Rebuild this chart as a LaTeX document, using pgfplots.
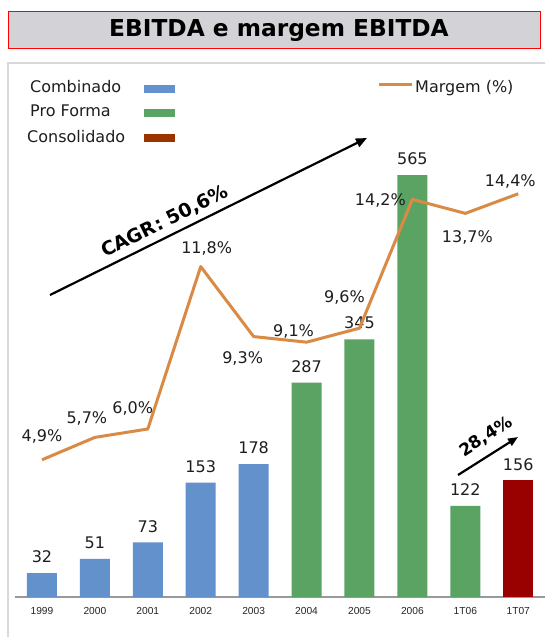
\documentclass[border=0pt]{standalone}
\usepackage{pgfplots}
\pgfplotsset{compat=1.18}
\usepackage{fontspec}
\setmainfont{DejaVu Sans}
\newfontfamily\arialf{Liberation Sans}
\usetikzlibrary{arrows.meta}
\definecolor{cblue}{HTML}{6391CC}
\definecolor{cgreen}{HTML}{5BA363}
\definecolor{cred}{HTML}{990000}
\definecolor{clegred}{HTML}{9A3300}
\definecolor{corange}{HTML}{D98B45}
\definecolor{titlegray}{HTML}{D3D3D7}
\definecolor{txt}{HTML}{1E1E1E}
\begin{document}
\begin{tikzpicture}
\begin{scope}[x=1pt,y=-1pt]
\useasboundingbox (0,0) rectangle (541,637);
\fill[white] (0,0) rectangle (541,637);
\draw[black!15, line width=1.2pt] (8,640) -- (8,63) -- (545,63);
\draw[red, line width=1pt, fill=titlegray] (8,11.5) rectangle (540,48.5);
\node[font=\fontsize{23.3}{27}\selectfont\bfseries] at (279,30.5) {EBITDA e margem EBITDA};
% legend
\node[anchor=base west, inner sep=0pt, text=txt, font=\fontsize{16}{18}\selectfont] at (30,92) {Combinado};
\node[anchor=base west, inner sep=0pt, text=txt, font=\fontsize{16}{18}\selectfont] at (30,116) {Pro Forma};
\node[anchor=base west, inner sep=0pt, text=txt, font=\fontsize{16}{18}\selectfont] at (27,142) {Consolidado};
\fill[cblue] (144,85) rectangle (175,93);
\fill[cgreen] (144,109) rectangle (175,117);
\fill[clegred] (144,134) rectangle (175,142);
\draw[corange, line width=3pt] (379,84) -- (412,84);
\node[anchor=base west, inner sep=0pt, text=txt, font=\fontsize{16}{18}\selectfont] at (415,92) {Margem (\%)};
% arrows
\draw[line width=2.2pt, -{Triangle[length=11pt,width=9pt]}] (50,295) -- (367,138);
\node[rotate=26.3, font=\bfseries\fontsize{19}{22}\selectfont] at (165,222) {CAGR: 50,6\%};
\draw[line width=2.2pt, -{Triangle[length=10pt,width=8pt]}] (458,475) -- (518,437);
\node[rotate=33, font=\bfseries\fontsize{17}{20}\selectfont] at (486,437) {28,4\%};
\end{scope}
\begin{axis}[
  at={(15.5pt,-597pt)}, anchor=south west,
  scale only axis, width=529.2pt, height=534pt,
  xmin=-0.5, xmax=9.5, ymin=0, ymax=715,
  axis x line*=bottom, axis y line=none,
  x axis line style={black!40, line width=1.5pt, -},
  xtick={0,...,9},
  xticklabels={1999,2000,2001,2002,2003,2004,2005,2006,1T06,1T07},
  major tick length=0pt,
  xticklabel style={anchor=north, inner sep=0pt, yshift=-10pt, text=black!85, font=\arialf\fontsize{10.2}{11}\selectfont},
  clip=false,
  /pgf/number format/assume math mode=true,
  ybar, bar width=30pt, bar shift=0pt,
  nodes near coords,
  every node near coord/.append style={anchor=south, inner sep=0pt, yshift=10pt, text=txt, font=\fontsize{16}{18}\selectfont},
]
\addplot[fill=cblue, draw=none] coordinates {(0,32) (1,51) (2,73) (3,153) (4,178)};
\addplot[fill=cgreen, draw=none] coordinates {(5,287) (6,345) (7,565) (8,122)};
\addplot[fill=cred, draw=none] coordinates {(9,156)};
\end{axis}
\begin{axis}[
  at={(15.5pt,-597pt)}, anchor=south west,
  scale only axis, width=529.2pt, height=534pt,
  xmin=-0.5, xmax=9.5, ymin=0, ymax=19.07,
  hide axis, clip=false,
  visualization depends on={value \thisrow{dx}\as\dx},
  visualization depends on={value \thisrow{dy}\as\dy},
  nodes near coords={\pgfmathprintnumber[fixed,fixed zerofill,precision=1,use comma,assume math mode=true]{\pgfplotspointmeta}\%},
  every node near coord/.append style={anchor=center, inner sep=0pt, xshift=\dx pt, yshift=\dy pt, text=txt, font=\fontsize{16}{18}\selectfont},
]
\addplot[corange, line width=3pt, line join=round, mark=none] table[x=x, y=y] {
x y dx dy
0 4.9 0 23
1 5.7 -8 19
2 6.0 -15 20
3 11.8 6 18.5
4 9.3 -11 -22
5 9.1 -13 11
6 9.6 -15 31
7 14.2 -32 -1.5
8 13.7 2 -24.5
9 14.4 -8 12.5
};
\end{axis}
\end{tikzpicture}
\end{document}
